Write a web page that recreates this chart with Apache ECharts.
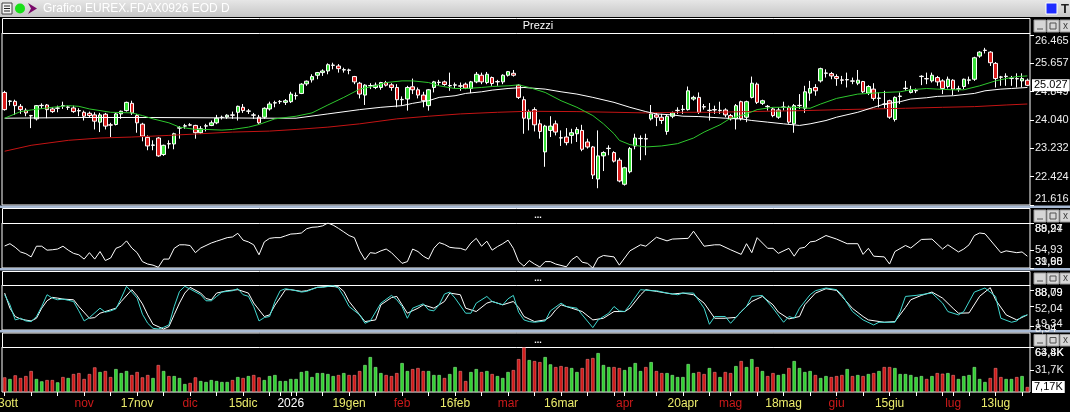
<!DOCTYPE html>
<html>
<head>
<meta charset="utf-8">
<script src="https://cdn.jsdelivr.net/npm/echarts@6/dist/echarts.min.js"></script>
<style>
html, body { margin: 0; padding: 0; background: #000; }
#chart { width: 1070px; height: 412px; }
</style>
</head>
<body>
<div id="chart"></div>
<script>
// giorni di borsa: primo giorno e chiusure Eurex
var firstDay = '2025-10-13';
var closedDays = ['2025-12-24', '2025-12-25', '2025-12-26', '2025-12-31', '2026-01-01', '2026-04-03', '2026-04-06', '2026-05-01'];

// etichette asse tempo
var dateLabels = [
    ['2025-10-13', '13ott', 'day'], ['2025-11-03', 'nov', 'month'], ['2025-11-17', '17nov', 'day'],
    ['2025-12-01', 'dic', 'month'], ['2025-12-15', '15dic', 'day'], ['2026-01-02', '2026', 'year'],
    ['2026-01-19', '19gen', 'day'], ['2026-02-02', 'feb', 'month'], ['2026-02-16', '16feb', 'day'],
    ['2026-03-02', 'mar', 'month'], ['2026-03-16', '16mar', 'day'], ['2026-04-01', 'apr', 'month'],
    ['2026-04-20', '20apr', 'day'], ['2026-05-04', 'mag', 'month'], ['2026-05-18', '18mag', 'day'],
    ['2026-06-01', 'giu', 'month'], ['2026-06-15', '15giu', 'day'], ['2026-07-01', 'lug', 'month'],
    ['2026-07-13', '13lug', 'day']
];

// candele [apertura, chiusura, minimo, massimo]
var candles = [
    [24823,24333,24305,24870],[24569,24578,24446,24606],[24569,24446,24182,24616],[24427,24333,24210,24493],[24314,24239,24144,24371],
    [24163,24154,23805,24182],[24069,24446,24022,24465],[24446,24455,24352,24512],[24465,24333,24088,24493],[24352,24276,24239,24399],
    [24371,24380,24257,24446],[24446,24437,24352,24559],[24399,24408,24323,24446],[24380,24276,24239,24446],[24305,24296,24144,24371],
    [24257,24144,24022,24305],[24229,24163,24116,24276],[24182,24003,23767,24257],[23975,24182,23692,24239],[24201,23862,23767,24239],
    [23899,23890,23550,23956],[23908,24210,23881,24239],[24210,24286,24069,24305],[24305,24540,24276,24559],[24512,24239,24182,24587],
    [24163,23956,23673,24210],[23918,23578,23428,23956],[23541,23296,23173,23597],[23314,23324,23173,23456],[23522,23012,22984,23550],
    [23050,23314,23012,23333],[23362,23352,23220,23456],[23352,23644,23201,23673],[23805,23814,23503,23862],[23862,23871,23786,23927],
    [23899,23890,23862,23946],[23881,23673,23503,23899],[23673,23786,23644,23862],[23862,23871,23710,23927],[23881,23956,23862,24022],
    [23956,24088,23918,24182],[24107,24116,24050,24163],[24125,24173,24069,24201],[24182,24173,24069,24276],[24257,24427,24022,24446],
    [24399,24305,24239,24493],[24286,24295,24210,24352],[24182,24173,24069,24239],[24116,23956,23927,24182],[24116,24371,24069,24399],
    [24352,24493,24305,24559],[24521,24530,24399,24587],[24559,24568,24493,24606],[24540,24587,24465,24635],[24559,24776,24521,24842],
    [24729,24738,24616,24823],[24795,25059,24776,25087],[25068,25144,25012,25163],[25182,25276,25106,25342],[25314,25389,25200,25408],
    [25389,25436,25295,25483],[25436,25615,25342,25653],[25596,25605,25483,25672],[25578,25502,25389,25634],[25464,25473,25389,25530],
    [25464,25455,25342,25502],[25276,25125,25059,25295],[25087,24776,24653,25125],[24748,25031,24465,25059],[25012,25021,24918,25087],
    [24965,25031,24918,25106],[24965,25106,24899,25125],[25106,25031,24993,25153],[25040,24965,24870,25087],[24965,24616,24399,25059],
    [24616,24625,24446,24710],[24635,24965,24305,25012],[24984,24899,24776,25219],[24899,24748,24653,24965],[24748,24587,24399,24842],
    [24446,24899,24305,24918],[24965,25125,24823,25153],[25106,25115,25012,25182],[25125,25050,25012,25163],[25012,25021,24870,25389],
    [25031,25040,24936,25106],[25012,25003,24870,25106],[25059,24946,24918,25106],[24936,25125,24804,25153],[25125,25342,25087,25408],
    [25314,25125,25059,25389],[25106,25342,25059,25408],[25248,25078,25012,25276],[25125,25134,25012,25182],[25125,25314,25059,25342],
    [25314,25417,25276,25436],[25370,25314,25276,25464],[25031,24682,24635,25059],[24616,24088,23644,24710],[24069,24276,23739,24333],
    [24333,23899,23710,24399],[23927,23710,23503,24050],[23126,23862,22701,23899],[23739,23862,23550,24144],[23927,23692,23597,24022],
    [23531,23522,23296,23739],[23550,23390,23314,23805],[23597,23673,23362,23786],[23644,23767,23409,23833],[23739,23201,23145,23899],
    [23409,23267,23220,23503],[23267,22466,22352,23296],[22352,23012,22089,23739],[23012,23107,22579,23145],[23220,23230,23031,23314],
    [23107,22862,22824,23145],[22890,22296,22258,22956],[22202,22673,22164,22701],[22560,23220,22513,23267],[23296,23522,23201,23644],
    [23503,23512,22890,23597],[23503,23494,23031,23644],[24069,24210,24022,24465],[24182,24116,23862,24239],[24116,24022,23927,24210],
    [23710,24144,23616,24182],[24144,24239,24088,24276],[24305,24314,24210,24399],[24333,24342,24210,24465],[24333,24870,24305,24993],
    [24635,24682,24587,24729],[24682,24257,24210,24823],[24418,24408,24333,24493],[24305,24314,24022,24521],[24333,24323,24210,24446],
    [24305,24314,24210,24559],[24323,24182,24116,24371],[24163,24069,24022,24210],[24069,24446,23767,24493],[24559,24069,24022,24587],
    [24116,24559,23975,24587],[24682,25087,24653,25276],[25059,24540,24493,25106],[24512,24587,24465,24616],[24427,24418,24305,24465],
    [24352,24163,24116,24399],[24116,24323,24069,24399],[24399,24408,24305,24559],[24399,23975,23927,24446],[23927,24446,23673,24493],
    [24446,24455,24352,24776],[24371,24842,24239,25012],[24804,24936,24587,25153],[24965,24870,24729,25059],[25153,25502,25106,25530],
    [25370,25379,25248,25483],[25361,25295,25200,25408],[25276,25219,25012,25342],[25182,25172,25059,25295],[25182,25191,24965,25389],
    [25153,25144,25059,25248],[25087,25172,25031,25464],[25134,24842,24804,25153],[24804,24993,24748,25031],[24918,24653,24587,25087],
    [24653,24663,24399,24823],[24493,24484,24352,24870],[24587,24116,24069,24616],[24050,24682,23993,24710],[24710,24719,24493,24823],
    [24936,24946,24870,25153],[24823,24899,24795,25012],[24870,24880,24804,24936],[25276,25286,25031,25314],[25219,25210,25059,25389],
    [25153,25314,25106,25389],[25248,25125,25012,25295],[25153,24936,24776,25200],[24993,25200,24936,25276],[25172,24918,24748,25200],
    [24918,24927,24842,25012],[24993,25200,24918,25219],[25172,25182,25059,25276],[25200,25813,25153,25842],[25861,25974,25813,26002],
    [26021,26030,25936,26096],[25974,25672,25578,26002],[25653,25219,24965,25691],[25266,25257,25012,25295],[25276,25286,25012,25370],
    [25219,25229,25012,25295],[25219,25210,24965,25370],[25153,25219,24965,25370],[25172,25027,25003,25219]
];

// medie mobili [indice candela, valore]
var maGreen = [[0,24088],[3,24276],[5,24323],[9,24399],[12,24446],[14,24427],[16,24352],[18,24305],[20,24257],[24,24239],
    [26,24163],[28,24069],[31,23956],[33,23833],[36,23767],[38,23767],[41,23748],[43,23767],[46,23833],[48,23908],
    [51,24069],[55,24144],[58,24239],[61,24465],[64,24682],[67,24918],[70,25012],[72,25106],[75,25153],[77,25153],
    [80,25106],[82,25012],[85,24936],[87,24936],[90,24965],[92,24993],[95,25012],[97,25040],[99,24965],[102,24823],
    [105,24587],[108,24399],[111,24163],[113,23927],[115,23644],[116,23456],[118,23333],[121,23267],[124,23296],[127,23362],
    [130,23522],[132,23692],[135,23899],[137,24088],[140,24210],[142,24333],[145,24399],[149,24399],[152,24371],[154,24493],
    [157,24653],[161,24776],[164,24804],[166,24823],[169,24842],[171,24899],[174,24936],[176,24918],[179,24899],[181,24899],
    [184,25012],[187,25153],[189,25219],[191,25276],[193,25295]];
var maWhite = [[0,24088],[15,24107],[28,24107],[40,24098],[49,24088],[55,24088],[61,24210],[67,24333],[71,24399],[75,24446],
    [77,24512],[80,24587],[82,24682],[85,24729],[87,24795],[90,24842],[92,24889],[95,24936],[98,24965],[102,24918],
    [105,24842],[108,24776],[111,24682],[115,24540],[118,24399],[121,24276],[123,24210],[126,24182],[128,24144],[131,24135],
    [133,24116],[136,24088],[139,24069],[141,24022],[144,23975],[147,23927],[150,23881],[152,23927],[155,24022],[157,24116],
    [161,24257],[164,24399],[166,24493],[169,24559],[171,24635],[174,24672],[176,24710],[179,24729],[183,24795],[185,24870],
    [188,24918],[190,24936],[193,24965]];
var maRed = [[0,23145],[5,23314],[12,23456],[18,23522],[24,23550],[31,23597],[37,23644],[43,23692],[50,23720],[55,23767],
    [61,23833],[67,23927],[74,24069],[80,24144],[86,24210],[93,24257],[99,24286],[108,24276],[115,24257],[121,24239],
    [127,24257],[134,24257],[140,24276],[147,24295],[151,24305],[158,24333],[164,24352],[170,24371],[177,24399],[183,24418],
    [189,24465],[193,24493]];

// oscillatore (pannello 2)
var rsiLine = [[0,60.0],[1,62.9],[2,58.3],[3,52.4],[4,50.2],[5,46.1],[6,59.7],[7,59.7],[8,54.7],[9,55.2],
    [10,56.1],[11,59.7],[12,54.7],[13,50.6],[14,48.8],[15,43.3],[16,51.5],[17,43.3],[18,52.9],[19,41.5],
    [20,44.7],[21,57.0],[22,59.7],[23,66.5],[24,57.4],[25,51.5],[26,40.1],[27,37.0],[28,35.6],[29,32.9],
    [30,43.3],[31,43.3],[32,57.0],[33,61.5],[34,61.5],[35,60.6],[36,51.5],[37,57.4],[38,60.6],[39,63.8],
    [40,66.1],[41,68.3],[42,70.6],[43,71.5],[44,76.1],[45,67.4],[46,65.2],[47,61.5],[48,48.8],[49,65.2],
    [50,69.7],[51,70.6],[52,70.6],[53,72.9],[54,75.2],[55,75.6],[56,76.5],[57,82.0],[58,83.8],[59,84.2],
    [60,85.6],[61,89.24],[62,86.5],[63,82.4],[64,77.9],[65,73.3],[66,70.6],[67,53.8],[68,42.4],[69,51.5],
    [70,50.6],[71,53.8],[72,56.1],[73,51.5],[74,44.7],[75,37.9],[76,40.1],[77,56.1],[78,52.9],[79,47.0],
    [80,43.3],[81,57.0],[82,64.3],[83,62.0],[84,58.3],[85,57.4],[86,57.0],[87,54.7],[88,63.8],[89,69.7],
    [90,59.7],[91,66.1],[92,54.7],[93,59.2],[94,62.9],[95,67.4],[96,57.0],[97,40.1],[98,34.3],[99,41.5],
    [100,37.0],[101,33.3],[102,40.1],[103,40.1],[104,37.0],[106,33.5],[107,42.4],[108,47.0],[109,39.3],[110,37.9],
    [111,31.98],[112,44.7],[113,47.9],[115,46.1],[116,35.6],[118,53.8],[120,61.5],[121,59.7],[123,71.1],[125,66.5],
    [126,68.8],[129,69.7],[130,78.8],[132,59.7],[134,61.5],[135,61.5],[137,55.2],[139,49.3],[140,62.9],[141,51.5],
    [142,70.6],[144,57.0],[145,57.0],[146,50.6],[148,57.0],[149,47.0],[150,57.0],[151,58.3],[152,65.2],[153,66.1],
    [155,73.3],[157,68.8],[159,62.9],[161,62.9],[162,49.3],[163,57.0],[164,47.0],[166,46.1],[167,37.0],[168,52.9],
    [170,60.6],[171,57.4],[173,68.3],[175,68.8],[177,56.1],[178,61.5],[180,52.4],[181,56.1],[182,61.5],[183,73.3],
    [184,76.5],[185,75.6],[188,51.5],[189,53.8],[191,51.5],[192,52.4],[193,47.0]];
// due serie di etichette che nel riferimento si sovrappongono
var rsiTicks = [31.98, 54.93, 89.24];
var rsiTicksAlt = [39.60, 88.97];

// stocastico (pannello 3)
var stochK = [[0,78.4],[1,56.0],[2,22.4],[3,26.1],[4,20.1],[5,18.7],[6,29.9],[7,52.2],[8,78.4],[9,70.9],
    [10,67.2],[11,68.7],[12,66.0],[13,63.4],[14,42.5],[15,20.1],[16,27.6],[18,48.5],[19,39.6],[20,42.5],
    [21,47.0],[22,70.9],[23,97.0],[24,84.3],[25,70.9],[26,35.1],[27,14.9],[28,3.7],[29,2.2],[30,6.0],
    [31,11.2],[32,52.2],[33,85.8],[34,97.0],[35,91.0],[37,78.4],[38,64.9],[39,64.9],[40,74.6],[41,84.3],
    [43,87.3],[44,91.8],[45,78.4],[46,75.0],[47,52.2],[48,20.1],[49,27.6],[50,30.0],[51,63.4],[52,87.3],
    [53,91.8],[55,87.3],[56,84.3],[57,85.8],[59,94.8],[60,94.8],[62,98.5],[63,93.3],[64,74.6],[65,52.2],
    [67,33.6],[68,14.9],[69,20.1],[71,59.7],[73,76.9],[74,67.2],[75,52.2],[76,26.1],[77,48.5],[79,58.2],
    [80,44.8],[81,42.5],[82,56.0],[83,79.9],[84,84.3],[85,70.9],[87,37.3],[88,37.3],[89,59.7],[91,74.6],
    [92,63.4],[94,56.0],[95,69.4],[96,76.9],[97,39.6],[98,22.4],[99,18.7],[100,17.2],[102,20.1],[103,42.5],
    [105,59.7],[106,52.2],[108,48.5],[109,33.6],[111,5.2],[112,22.4],[114,37.3],[115,52.2],[116,42.5],[117,41.0],
    [118,56.0],[120,89.6],[122,87.3],[123,87.3],[125,82.1],[127,78.4],[128,82.1],[130,82.1],[132,48.5],[133,12.7],
    [134,29.9],[136,29.9],[137,14.9],[139,41.0],[140,52.2],[141,74.6],[143,76.9],[145,48.5],[147,17.2],[148,29.9],
    [149,26.1],[150,48.5],[152,78.4],[153,87.3],[155,93.3],[157,89.6],[158,78.4],[159,59.7],[160,41.0],[162,22.4],
    [164,11.2],[165,17.2],[168,17.2],[169,41.0],[170,74.6],[172,76.9],[175,82.1],[177,59.7],[178,41.0],[180,33.6],
    [181,41.0],[183,84.3],[185,93.3],[187,74.6],[188,26.1],[190,17.2],[191,20.1],[192,29.9],[193,33.6]];
var stochD = [[0,82.1],[1,48.5],[2,29.9],[3,24.6],[4,22.0],[5,20.1],[6,26.1],[7,48.5],[8,65.0],[9,72.4],
    [10,70.9],[11,68.7],[13,67.2],[14,52.2],[16,26.1],[17,27.6],[18,37.3],[20,44.8],[21,48.5],[22,63.4],
    [24,89.6],[25,76.0],[26,58.0],[27,33.6],[28,12.7],[30,2.2],[31,7.5],[32,34.0],[33,60.0],[34,82.1],
    [35,94.8],[37,82.1],[38,70.0],[39,67.0],[40,82.1],[42,87.3],[44,89.6],[46,82.1],[47,60.0],[49,29.9],
    [50,33.6],[51,55.0],[52,72.0],[53,89.6],[54,89.6],[56,85.8],[57,87.3],[59,94.8],[61,97.0],[63,96.0],
    [64,85.8],[65,63.4],[67,33.6],[68,18.7],[70,22.4],[71,56.0],[73,72.0],[74,74.6],[75,56.0],[76,37.3],
    [78,48.5],[79,56.0],[81,48.5],[83,63.4],[84,82.1],[86,78.4],[87,48.5],[89,41.0],[91,59.7],[92,63.4],
    [94,56.0],[96,63.4],[97,50.0],[98,30.0],[100,18.7],[102,22.4],[103,30.0],[104,45.0],[105,56.0],[107,48.5],
    [109,41.0],[111,22.4],[113,26.1],[115,41.0],[117,41.0],[118,48.5],[120,78.0],[121,89.6],[123,85.8],[126,79.9],
    [128,82.1],[130,78.4],[132,59.7],[134,26.1],[136,26.1],[138,28.0],[139,41.0],[141,63.4],[143,74.6],[145,56.0],
    [146,40.0],[148,24.6],[150,30.0],[151,56.0],[153,82.0],[155,91.8],[157,88.0],[158,74.6],[160,48.0],[162,30.0],
    [163,22.4],[166,17.2],[168,18.7],[170,50.0],[171,67.2],[173,76.9],[175,84.3],[177,70.9],[179,48.0],[180,37.3],
    [182,38.0],[184,75.0],[186,94.0],[187,67.2],[189,33.6],[191,22.4],[193,33.6]];
var stochTicks = [8.94, 52.04, 88.79];
var stochTicksAlt = [19.34, 88.09];

// volumi in migliaia
var volumeK = [
    20.9,18.6,23.8,20.0,22.8,30.0,18.6,15.2,17.1,17.1,
    13.8,21.4,20.0,25.7,27.1,18.6,25.7,35.2,28.6,30.0,
    21.4,32.8,27.1,30.0,24.3,28.6,20.9,24.3,20.0,38.6,
    30.0,22.8,22.8,20.0,11.4,12.9,20.9,15.7,14.3,17.1,
    15.7,14.3,14.3,17.1,21.4,20.0,22.8,24.3,20.9,17.1,
    22.8,24.3,15.7,15.7,18.6,18.6,28.6,30.0,21.4,27.1,
    27.1,25.7,22.8,24.3,27.1,24.3,24.3,30.0,38.6,50.0,
    35.7,27.1,24.3,22.8,27.1,41.4,30.0,32.8,34.3,30.0,
    30.0,24.3,24.3,20.0,25.7,35.7,30.0,15.7,28.6,32.8,
    28.6,30.0,25.7,22.8,20.0,28.6,31.4,47.1,63.8,45.7,
    44.3,42.8,50.0,39.5,35.7,37.1,35.7,34.3,28.6,34.3,
    47.1,48.6,55.7,38.6,35.7,35.7,34.3,31.4,35.7,41.4,
    30.0,35.7,42.8,30.0,27.1,27.1,24.3,21.4,21.4,40.0,
    27.1,28.6,25.7,34.3,28.6,21.4,28.6,27.1,37.1,44.3,
    35.7,47.1,35.7,30.0,22.8,27.1,24.3,25.7,34.3,44.3,
    34.3,28.6,30.0,24.3,20.0,22.8,21.4,22.8,24.3,32.8,
    22.8,24.3,22.8,25.7,27.1,30.0,35.7,35.7,34.3,25.7,
    25.7,24.3,21.4,22.8,18.6,22.8,27.1,26.2,27.1,24.3,
    18.6,22.8,24.3,35.7,18.6,14.3,20.0,34.3,21.4,18.6,
    18.6,21.4,22.8,7.17];
var volumeTicks = [31.7, 64.4];
var volumeTicksAlt = [63.8];

// scala prezzi
var priceTicks = [21616, 22424, 23232, 24040, 24849, 25657, 26465];

// ---------------------------------------------------------------
var GREEN = '#38e038', RED = '#d81c1c', CYAN = '#40d8d0';
var FONT = 'Liberation Sans';

function tradingDays(start, count, closed) {
    var out = [];
    var d = new Date(start + 'T00:00:00Z');
    while (out.length < count) {
        var s = d.toISOString().slice(0, 10);
        var wd = d.getUTCDay();
        if (wd !== 0 && wd !== 6 && closed.indexOf(s) < 0) out.push(s);
        d.setUTCDate(d.getUTCDate() + 1);
    }
    return out;
}
var dates = tradingDays(firstDay, candles.length, closedDays);

var labelAt = {};
dateLabels.forEach(function (l) { labelAt[l[0]] = l; });
function isMonday(s) { return new Date(s + 'T00:00:00Z').getUTCDay() === 1; }

var comma = function (v, d) { return v.toFixed(d).replace('.', ','); };

// etichette ai bordi spostate dentro il pannello
function edgeFormatter(min, max, fmt) {
    return function (v) {
        var r = max - min, t = fmt(v);
        if (max - v < r * 0.03) return '{dn|' + t + '}';
        if (v - min < r * 0.03) return '{up|' + t + '}';
        return t;
    };
}
var edgeRich = {
    dn: { padding: [12, 0, 0, 0], color: '#f0f0f0', fontSize: 11, fontFamily: FONT },
    up: { padding: [0, 0, 12, 0], color: '#f0f0f0', fontSize: 11, fontFamily: FONT }
};

function rightAxis(grid, min, max, ticks, fmt, withTicks, pad) {
    return {
        type: 'value', gridIndex: grid, position: 'right', min: min, max: max,
        splitLine: { show: false },
        axisLine: { show: false },
        axisTick: { show: withTicks !== false, length: 4, customValues: ticks, lineStyle: { color: '#fff' } },
        axisLabel: {
            customValues: ticks, margin: 5, color: '#f0f0f0', fontSize: 11, fontFamily: FONT,
            showMinLabel: true, showMaxLabel: true, hideOverlap: false, padding: pad || 0,
            formatter: edgeFormatter(min, max, fmt), rich: edgeRich
        }
    };
}

function hiddenX(grid) {
    return {
        type: 'category', gridIndex: grid, data: dates, boundaryGap: true,
        axisLine: { show: false }, axisTick: { show: false }, axisLabel: { show: false }
    };
}

var grids = [
    { left: 2, top: 33, width: 1028, height: 172 },
    { left: 2, top: 223, width: 1028, height: 45 },
    { left: 2, top: 285, width: 1028, height: 45 },
    { left: 2, top: 347, width: 1028, height: 45 }
].map(function (g) {
    g.show = true; g.borderColor = '#ffffff'; g.borderWidth = 1; g.backgroundColor = '#000';
    g.outerBoundsMode = 'none'; g.containLabel = false;
    return g;
});

var lastClose = candles[candles.length - 1][1];
var lastVol = volumeK[volumeK.length - 1];

var volumeBars = volumeK.map(function (v, i) {
    var up = candles[i][1] >= candles[i][0];
    return { value: v, itemStyle: { color: up ? '#30d030' : '#d01818', borderColor: up ? '#90f090' : '#f08080', borderWidth: 0.6 } };
});

// cartellino con l'ultimo valore, a destra del pannello
function lastValueLine(value, text) {
    return {
        silent: true, symbol: ['none', 'none'], animation: false,
        lineStyle: { color: 'rgba(0,0,0,0)', width: 0, type: 'solid' },
        emphasis: { disabled: true },
        data: [{ yAxis: value }],
        label: { show: true, position: 'end', distance: 2, formatter: text, color: '#000', backgroundColor: '#ffffff',
            padding: [1, 2, 0, 2], fontSize: 11, fontFamily: FONT }
    };
}

// cornice della finestra
var graphics = [];
graphics.push({ type: 'rect', shape: { x: 0, y: 0, width: 1070, height: 17 },
    style: { fill: new echarts.graphic.LinearGradient(0, 0, 0, 1, [{ offset: 0, color: '#e6e6e6' }, { offset: 1, color: '#c6c6c6' }]) } });
graphics.push({ type: 'rect', shape: { x: 2, y: 3, width: 10, height: 11 }, style: { fill: '#f4f4f4', stroke: '#404040', lineWidth: 1 } });
[6, 8.5, 11].forEach(function (y) {
    graphics.push({ type: 'line', shape: { x1: 4, y1: y, x2: 10, y2: y }, style: { stroke: '#202020', lineWidth: 1 } });
});
graphics.push({ type: 'circle', shape: { cx: 20, cy: 8.5, r: 5 }, style: { fill: '#18e018' } });
graphics.push({ type: 'polygon', shape: { points: [[28, 3], [37, 8.5], [28, 14], [31, 8.5]] }, style: { fill: '#7a0a6a' } });
graphics.push({ type: 'text', x: 43, y: 8.5, style: { text: 'Grafico EUREX.FDAX0926 EOD D', fill: '#ffffff', font: '12px ' + FONT, verticalAlign: 'middle' } });
graphics.push({ type: 'rect', shape: { x: 1046, y: 3, width: 11, height: 11 }, style: { fill: '#1f2cff', stroke: '#ffffff', lineWidth: 1 } });
graphics.push({ type: 'text', x: 1061, y: 9, style: { text: 'T', fill: '#202020', font: 'bold 13px ' + FONT, verticalAlign: 'middle' } });

[205.5, 268, 330].forEach(function (y) {
    graphics.push({ type: 'rect', shape: { x: 0, y: y, width: 1070, height: 2.5 }, style: { fill: '#a8bad4' } });
});

var headers = [[18, 15, 'Prezzi'], [208, 15, '...'], [271, 14, '...'], [332.5, 14.5, '...']];
headers.forEach(function (h) {
    graphics.push({ type: 'rect', shape: { x: 2.5, y: h[0] + 0.5, width: 1027.5, height: h[1] }, style: { fill: '#000', stroke: '#ffffff', lineWidth: 1 } });
    graphics.push({ type: 'text', x: 538, y: h[0] + h[1] / 2 + 0.5,
        style: { text: h[2], fill: '#ffffff', font: (h[2] === '...' ? 'bold 9px ' : '11px ') + FONT, align: 'center', verticalAlign: 'middle' } });
    var by = h[0] + 2, bh = h[1] - 3;
    [1034, 1047, 1060].forEach(function (bx, k) {
        graphics.push({ type: 'rect', shape: { x: bx, y: by, width: 12, height: bh }, style: { fill: '#d6d6d6', stroke: '#9a9a9a', lineWidth: 1 } });
        if (k === 0) graphics.push({ type: 'line', shape: { x1: bx + 3, y1: by + bh - 3, x2: bx + 9, y2: by + bh - 3 }, style: { stroke: '#505050', lineWidth: 1 } });
        if (k === 1) graphics.push({ type: 'rect', shape: { x: bx + 3, y: by + 3, width: 6, height: bh - 6 }, style: { fill: 'none', stroke: '#505050', lineWidth: 1 } });
        if (k === 2) graphics.push({ type: 'text', x: bx + 3, y: by + bh / 2, style: { text: 'x', fill: '#404040', font: '10px ' + FONT, verticalAlign: 'middle' } });
    });
});

var myChart = echarts.init(document.getElementById('chart'));
var option = {
    backgroundColor: '#000',
    animation: false,
    textStyle: { fontFamily: FONT },
    grid: grids,
    graphic: graphics,
    xAxis: [
        hiddenX(0), hiddenX(1), hiddenX(2),
        {
            type: 'category', gridIndex: 3, data: dates, boundaryGap: true,
            axisLine: { show: false },
            axisTick: {
                show: true, length: 4, alignWithLabel: true, lineStyle: { color: '#ffffff' },
                interval: function (i, v) { return isMonday(v) || !!labelAt[v]; }
            },
            axisLabel: {
                show: true, margin: 6, fontSize: 12,
                interval: function (i, v) { return !!labelAt[v]; },
                formatter: function (v) {
                    var l = labelAt[v];
                    return l ? '{' + l[2] + '|' + l[1] + '}' : '';
                },
                rich: {
                    day: { color: '#ecec6c', fontSize: 12, fontFamily: FONT },
                    month: { color: '#cc1a1a', fontSize: 12, fontFamily: FONT },
                    year: { color: '#ffffff', fontSize: 12, fontFamily: FONT }
                }
            }
        }
    ],
    yAxis: [
        rightAxis(0, 21610, 26520, priceTicks, function (v) { return (v / 1000).toFixed(3); }),
        rightAxis(1, 31.98, 89.24, rsiTicks, function (v) { return comma(v, 2); }),
        rightAxis(2, 0, 100, stochTicks, function (v) { return comma(v, 2); }, true, [5, 0, 0, 0]),
        rightAxis(3, 0, 64.4, volumeTicks, function (v) { return comma(v, 1) + 'K'; }),
        rightAxis(1, 31.98, 89.24, rsiTicksAlt, function (v) { return comma(v, 2); }, false),
        rightAxis(2, 0, 100, stochTicksAlt, function (v) { return comma(v, 2); }, false, [5, 0, 0, 0]),
        rightAxis(3, 0, 64.4, volumeTicksAlt, function (v) { return comma(v, 1) + 'K'; }, false)
    ],
    series: [
        { type: 'line', xAxisIndex: 0, yAxisIndex: 0, data: maRed, showSymbol: false, lineStyle: { color: '#c41414', width: 1 } },
        { type: 'line', xAxisIndex: 0, yAxisIndex: 0, data: maWhite, showSymbol: false, lineStyle: { color: '#ffffff', width: 1 } },
        { type: 'line', xAxisIndex: 0, yAxisIndex: 0, data: maGreen, showSymbol: false, lineStyle: { color: '#2ec82e', width: 1 } },
        {
            type: 'candlestick', xAxisIndex: 0, yAxisIndex: 0, data: candles, barWidth: 4,
            itemStyle: { color: GREEN, color0: RED, borderColor: '#ffffff', borderColor0: '#ffffff', borderColorDoji: '#ffffff', borderWidth: 1 },
            markLine: lastValueLine(lastClose, (lastClose / 1000).toFixed(3))
        },
        { type: 'line', xAxisIndex: 1, yAxisIndex: 1, data: rsiLine, showSymbol: false, lineStyle: { color: '#ffffff', width: 1 } },
        { type: 'line', xAxisIndex: 2, yAxisIndex: 2, data: stochD, showSymbol: false, lineStyle: { color: '#ffffff', width: 1 } },
        { type: 'line', xAxisIndex: 2, yAxisIndex: 2, data: stochK, showSymbol: false, lineStyle: { color: CYAN, width: 1 } },
        {
            type: 'bar', xAxisIndex: 3, yAxisIndex: 3, data: volumeBars, barWidth: 3.4,
            markLine: lastValueLine(lastVol, comma(lastVol, 2) + 'K')
        }
    ]
};
myChart.setOption(option);
</script>
</body>
</html>
